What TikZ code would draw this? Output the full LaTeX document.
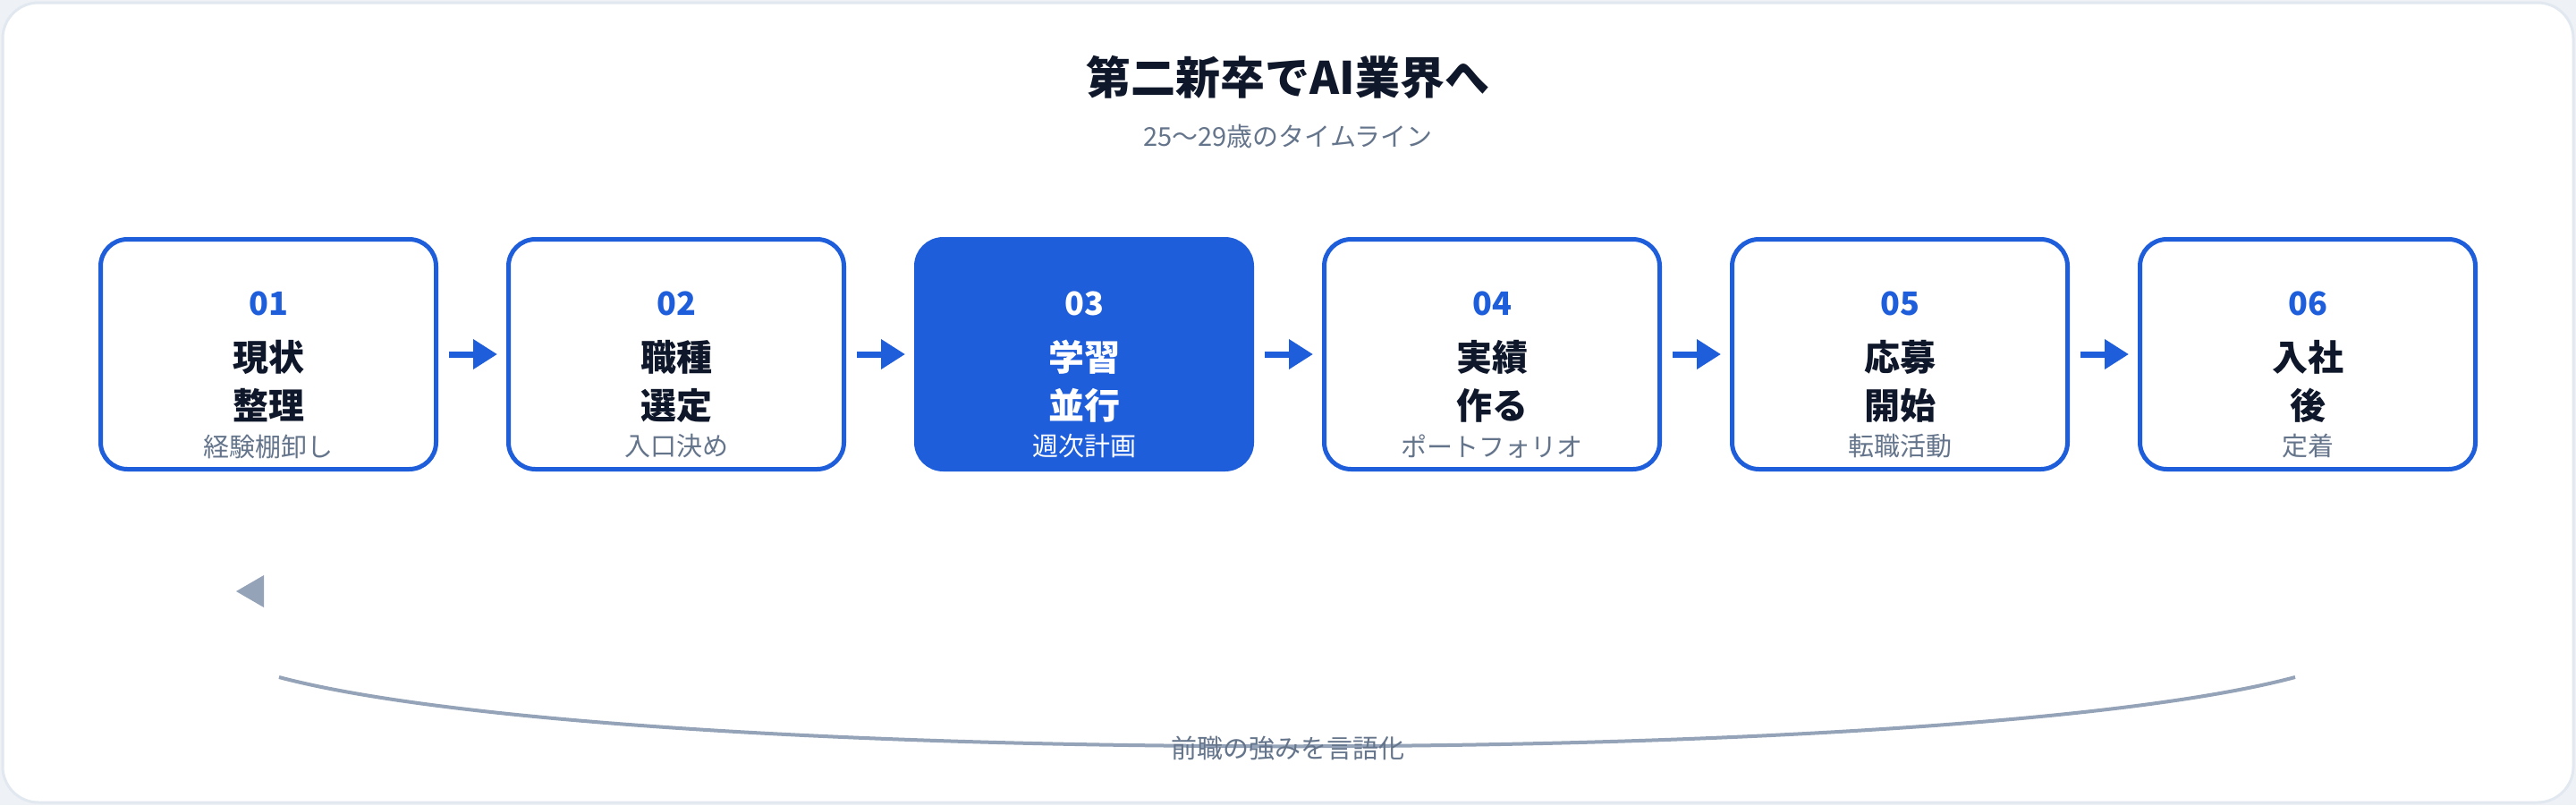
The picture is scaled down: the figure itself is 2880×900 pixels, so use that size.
\documentclass[tikz,border=0pt]{standalone}
\usepackage{fontspec}
\setmainfont{Noto Sans CJK JP}
\usetikzlibrary{arrows.meta}
\definecolor{blu}{HTML}{1F5EDB}
\definecolor{ink}{HTML}{0F172A}
\definecolor{mut}{HTML}{64748B}
\definecolor{gry}{HTML}{94A3B8}
\definecolor{frame}{HTML}{E2E8F0}
\tikzset{
  stepbox/.style={draw=blu,line width=5pt,rounded corners=30pt,minimum width=375pt,minimum height=257pt,fill=white},
  hot/.style={fill=blu},
  num/.style={text=blu,font=\fontsize{36}{40}\selectfont\bfseries},
  ttl/.style={text=ink,font=\fontsize{40}{54}\selectfont\bfseries,align=center},
  sub/.style={text=mut,font=\fontsize{29}{32}\selectfont},
  flow/.style={-{Triangle[length=27pt,width=32pt]},blu,line width=7pt},
}
\begin{document}
\begin{tikzpicture}[x=1pt,y=-1pt]
\useasboundingbox (0,0) rectangle (2880,900);
\fill[frame!60] (0,0) rectangle (2880,900);
\draw[frame,line width=3pt,fill=white,rounded corners=40pt] (3,3) rectangle (2877,897);
\node[text=ink,font=\fontsize{50}{56}\selectfont\bfseries] (title) at (1440,86) {第二新卒でAI業界へ};
\node[sub] (subt) at (1440,153) {25〜29歳のタイムライン};
\foreach \i/\n/\a/\b/\s in {1/01/現状/整理/経験棚卸し,2/02/職種/選定/入口決め,3/03/学習/並行/週次計画,4/04/実績/作る/ポートフォリオ,5/05/応募/開始/転職活動,6/06/入社/後/定着}{
  \pgfmathsetmacro{\cx}{300+(\i-1)*456}
  \ifnum\i=3
    \node[stepbox,hot] (b\i) at (\cx,396) {};
    \node[num,text=white] (n\i) at (\cx,339) {\n};
    \node[ttl,text=white] (t\i) at (\cx,426) {\a\\\b};
    \node[sub,text=white] (s\i) at (\cx,499) {\s};
  \else
    \node[stepbox] (b\i) at (\cx,396) {};
    \node[num] (n\i) at (\cx,339) {\n};
    \node[ttl] (t\i) at (\cx,426) {\a\\\b};
    \node[sub] (s\i) at (\cx,499) {\s};
  \fi
}
\foreach \i [evaluate=\i as \j using int(\i+1)] in {1,...,5}{
  \draw[flow] ([xshift=12pt]b\i.east) -- ([xshift=-10pt]b\j.west);
}
\coordinate (cs) at (312,757);
\coordinate (ce) at (2566,757);
\draw[gry,line width=4pt] (cs) .. controls (700,860) and (2180,860) .. (ce);
\node[sub] (back) at (1440,837) {前職の強みを言語化};
\coordinate (tri) at (264,661);
\fill[gry] (tri) -- ++(31,-18) -- ++(0,36) -- cycle;
\end{tikzpicture}
\end{document}
